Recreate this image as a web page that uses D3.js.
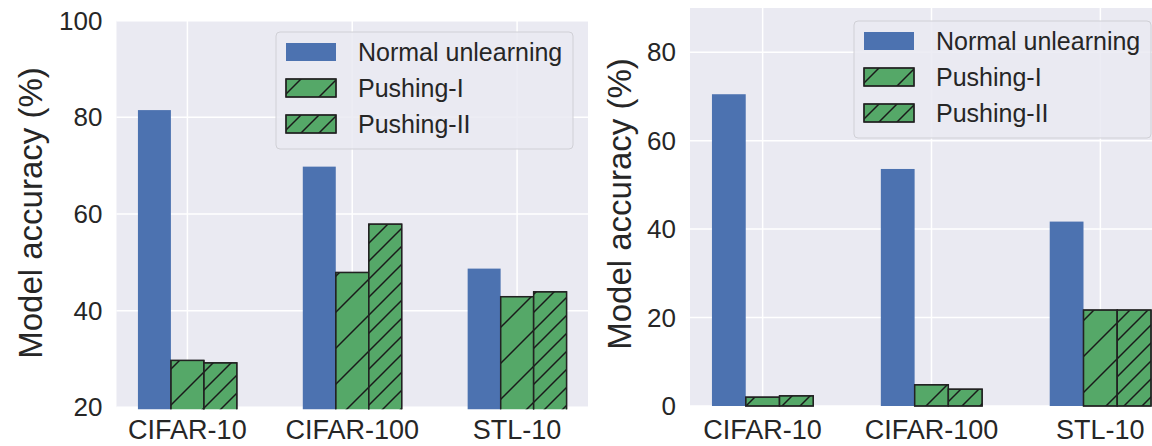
<!DOCTYPE html>
<html>
<head>
<meta charset="utf-8">
<script src="https://cdn.jsdelivr.net/npm/d3@7"></script>
<style>
  body { margin: 0; background: #fff; }
  text { font-family: "Liberation Sans", Arial, sans-serif; fill: #262626; }
</style>
</head>
<body>
<div id="chart"></div>
<script>
const categories = ["CIFAR-10", "CIFAR-100", "STL-10"];
const seriesNames = ["Normal unlearning", "Pushing-I", "Pushing-II"];

// left panel
const leftNormal = [81.5, 69.8, 48.7];
const leftPushI = [29.7, 47.9, 42.9];
const leftPushII = [29.2, 57.9, 43.9];
const leftTicks = [20, 40, 60, 80, 100];

// right panel
const rightNormal = [70.5, 53.6, 41.7];
const rightPushI = [2.0, 4.8, 21.7];
const rightPushII = [2.3, 3.8, 21.7];
const rightTicks = [0, 20, 40, 60, 80];

const W = 1152, H = 446;
const blue = "#4c72b0", green = "#55a868", bg = "#eaeaf2";

var svg = d3.select("#chart").append("svg")
    .attr("width", W)
    .attr("height", H);

// hatch patterns, anchored to page origin so lines run on across bars
var defs = svg.append("defs");
function hatch(id, s) {
    let p = defs.append("pattern")
        .attr("id", id)
        .attr("patternUnits", "userSpaceOnUse")
        .attr("width", s).attr("height", s);
    p.append("path")
        .attr("d", `M0,${s} L${s},0 M${-s / 2},${s / 2} L${s / 2},${-s / 2} M${s / 2},${s * 1.5} L${s * 1.5},${s / 2}`)
        .attr("stroke", "#1a1a1a")
        .attr("stroke-width", 1.5);
}
hatch("h1", 36);
hatch("h2", 18);

const fills = [blue, green, green];
const hatches = [null, "url(#h1)", "url(#h2)"];

function drawPanel(o) {
    let x = d3.scaleLinear().domain([-0.43, 2.43]).range([o.left, o.right]);
    let y = d3.scaleLinear().domain(o.yDomain).range([o.bottom, o.top]);
    let g = svg.append("g");

    g.append("clipPath").attr("id", o.id + "clip")
        .append("rect")
        .attr("x", o.left).attr("y", o.top - 2)
        .attr("width", o.right - o.left).attr("height", o.bottom - o.top + 4);

    g.append("rect")
        .attr("x", o.left).attr("y", o.top)
        .attr("width", o.right - o.left).attr("height", o.bottom - o.top)
        .attr("fill", bg);

    // grid
    g.append("g").selectAll("line.h")
        .data(o.ticks)
        .join("line")
        .attr("x1", o.left).attr("x2", o.right)
        .attr("y1", d => y(d)).attr("y2", d => y(d))
        .attr("stroke", "#fff").attr("stroke-width", 1.5);
    g.append("g").selectAll("line.v")
        .data(categories)
        .join("line")
        .attr("x1", (d, i) => x(i)).attr("x2", (d, i) => x(i))
        .attr("y1", o.top).attr("y2", o.bottom)
        .attr("stroke", "#fff").attr("stroke-width", 1.5);

    // bars
    let bars = g.append("g").attr("clip-path", `url(#${o.id}clip)`);
    let base = Math.min(0, o.yDomain[0]);
    o.series.forEach((vals, j) => {
        let xs = (d, i) => x(i + (j - 1) * 0.2 - 0.1);
        bars.append("g").selectAll("rect")
            .data(vals)
            .join("rect")
            .attr("x", xs)
            .attr("width", x(0.2) - x(0))
            .attr("y", d => y(d))
            .attr("height", d => y(base) - y(d))
            .attr("fill", fills[j])
            .attr("stroke", j ? "#222" : "none")
            .attr("stroke-width", 1.3);
        if (hatches[j]) {
            bars.append("g").selectAll("rect")
                .data(vals)
                .join("rect")
                .attr("x", xs)
                .attr("width", x(0.2) - x(0))
                .attr("y", d => y(d))
                .attr("height", d => y(base) - y(d))
                .attr("fill", hatches[j])
                .attr("stroke", "#222")
                .attr("stroke-width", 1.3);
        }
    });

    // tick labels
    g.append("g").selectAll("text")
        .data(o.ticks)
        .join("text")
        .attr("x", o.left - 14)
        .attr("y", d => y(d))
        .attr("dy", "0.35em")
        .attr("text-anchor", "end")
        .style("font-size", "26px")
        .text(d => d);
    g.append("g").selectAll("text")
        .data(categories)
        .join("text")
        .attr("x", (d, i) => x(i))
        .attr("y", 439)
        .attr("text-anchor", "middle")
        .style("font-size", "27px")
        .text(d => d);

    g.append("text")
        .attr("transform", `translate(${o.labelX},${o.labelY}) rotate(-90)`)
        .attr("text-anchor", "middle")
        .style("font-size", "33px")
        .text("Model accuracy (%)");

    // legend
    let lg = g.append("g").attr("transform", `translate(${o.legX},${o.legY})`);
    lg.append("rect")
        .attr("width", 297).attr("height", 117)
        .attr("rx", 4)
        .attr("fill", bg).attr("fill-opacity", 0.85)
        .attr("stroke", "#d0d0d6").attr("stroke-width", 1);
    seriesNames.forEach((name, j) => {
        let cy = 20 + j * 36;
        lg.append("rect")
            .attr("x", 10).attr("y", cy - 9)
            .attr("width", 50).attr("height", 18)
            .attr("fill", fills[j])
            .attr("stroke", j ? "#222" : "none").attr("stroke-width", 1.3);
        if (hatches[j]) {
            lg.append("rect")
                .attr("x", 10).attr("y", cy - 9)
                .attr("width", 50).attr("height", 18)
                .attr("fill", hatches[j])
                .attr("stroke", "#222").attr("stroke-width", 1.3);
        }
        lg.append("text")
            .attr("x", 82).attr("y", cy)
            .attr("dy", "0.35em")
            .style("font-size", "25px")
            .text(name);
    });
}

drawPanel({
    id: "L",
    left: 116.5, right: 588, top: 20.7, bottom: 407.3,
    yDomain: [20, 100], ticks: leftTicks,
    series: [leftNormal, leftPushI, leftPushII],
    labelX: 42, labelY: 213,
    legX: 276, legY: 32
});

drawPanel({
    id: "R",
    left: 690, right: 1173, top: 8, bottom: 406,
    yDomain: [0, 90], ticks: rightTicks,
    series: [rightNormal, rightPushI, rightPushII],
    labelX: 631, labelY: 204,
    legX: 854, legY: 21
});
</script>
</body>
</html>
